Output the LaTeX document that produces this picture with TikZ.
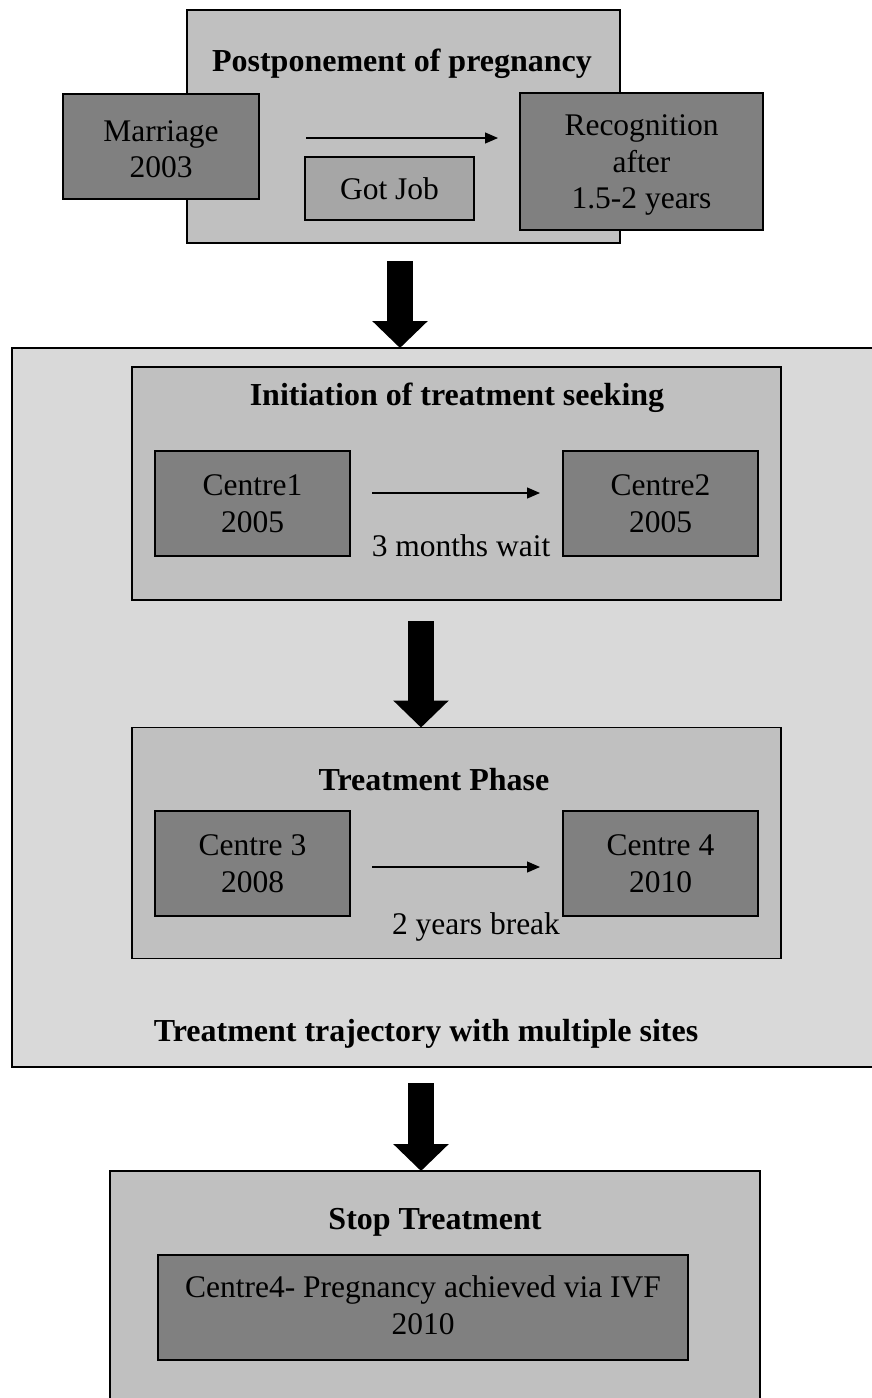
\documentclass[tikz,border=0pt]{standalone}
\usepackage{fontspec}
\setmainfont{Liberation Serif}
\usetikzlibrary{arrows.meta}

\definecolor{darkbox}{HTML}{808080}
\definecolor{midbox}{HTML}{A6A6A6}
\definecolor{panel}{HTML}{C0C0C0}
\definecolor{outerpanel}{HTML}{D9D9D9}

\tikzset{
  every node/.style={inner sep=0pt, outer sep=0pt},
  txt/.style={font=\fontsize{31.5}{36.5}\selectfont, align=center},
  ttl/.style={font=\fontsize{32}{36}\selectfont\bfseries, align=center},
  boxframe/.style={draw=black, line width=1.6pt},
  centrebox/.style={boxframe, fill=darkbox, txt},
  thinarrow/.style={line width=1.2pt, -{Triangle[length=13pt, width=11pt]}},
  fatarrow/.style={line width=26pt, -{Triangle[length=27pt, width=54pt]}}
}

\begin{document}
\begin{tikzpicture}[x=1pt, y=-1pt]
  \useasboundingbox (0,0) rectangle (871,1398);

  % Stage 1: postponement of pregnancy
  \node[boxframe, fill=panel, minimum width=433pt, minimum height=233pt] (post) at (403.5,126.5) {};
  \node[ttl] (postT) at (402,64) {Postponement of pregnancy};
  \node[centrebox, minimum width=196pt, minimum height=105pt] (marr) at (161,146.5) {};
  \node[txt] (marrT) at (161,149) {Marriage\\2003};
  \node[centrebox, minimum width=243pt, minimum height=137pt] (recog) at (641.5,161.5) {};
  \node[txt] (recogT) at (641.5,165) {Recognition\\after\\1.5-2 years};
  \coordinate (a0s) at (306,138);
  \coordinate (a0e) at (498,138);
  \draw[thinarrow] (a0s) -- (a0e);
  \node[boxframe, fill=midbox, txt, minimum width=169pt, minimum height=63pt] (job) at (389.5,188.5) {Got Job};

  % Outer panel: treatment trajectory
  \node[boxframe, fill=outerpanel, minimum width=870pt, minimum height=719pt] (traj) at (447,707.5) {};
  \node[ttl] (trajT) at (426,1034) {Treatment trajectory with multiple sites};

  % Stage 2: initiation of treatment seeking
  \node[boxframe, fill=panel, minimum width=649pt, minimum height=233pt] (init) at (456.5,483.5) {};
  \node[ttl] (initT) at (457,398) {Initiation of treatment seeking};
  \node[centrebox, minimum width=195pt, minimum height=105pt] (c1) at (252.5,503.5) {Centre1\\2005};
  \node[centrebox, minimum width=195pt, minimum height=105pt] (c2) at (660.5,503.5) {Centre2\\2005};
  \draw[thinarrow] ([xshift=22pt,yshift=10.5pt]c1.east) -- ([xshift=-23pt,yshift=10.5pt]c2.west);
  \node[txt] (wait) at (461,546) {3 months wait};

  % Stage 3: treatment phase
  \node[boxframe, fill=panel, minimum width=649pt, minimum height=231pt] (phase) at (456.5,843) {};
  \node[ttl] (phaseT) at (434,780) {Treatment Phase};
  \node[centrebox, minimum width=195pt, minimum height=105pt] (c3) at (252.5,863.5) {Centre 3\\2008};
  \node[centrebox, minimum width=195pt, minimum height=105pt] (c4) at (660.5,863.5) {Centre 4\\2010};
  \draw[thinarrow] ([xshift=22pt,yshift=-3.5pt]c3.east) -- ([xshift=-23pt,yshift=-3.5pt]c4.west);
  \node[txt] (brk) at (476,927) {2 years break};

  % Stage 4: stop treatment
  \node[boxframe, fill=panel, minimum width=650pt, minimum height=250pt] (stop) at (435,1296) {};
  \node[ttl] (stopT) at (435,1222) {Stop Treatment};
  \node[centrebox, minimum width=530pt, minimum height=105pt] (ivf) at (423,1307.5) {};
  \node[txt] (ivfT) at (423,1305) {Centre4- Pregnancy achieved via IVF\\2010};

  % Fat arrows between stages
  \coordinate (f1) at (400,261);
  \coordinate (f2) at (421,621);
  \coordinate (f3) at (421,1083);
  \draw[fatarrow] (f1) -- (f1 |- traj.north);
  \draw[fatarrow] (f2) -- (f2 |- phase.north);
  \draw[fatarrow] (f3) -- (f3 |- stop.north);
\end{tikzpicture}
\end{document}
